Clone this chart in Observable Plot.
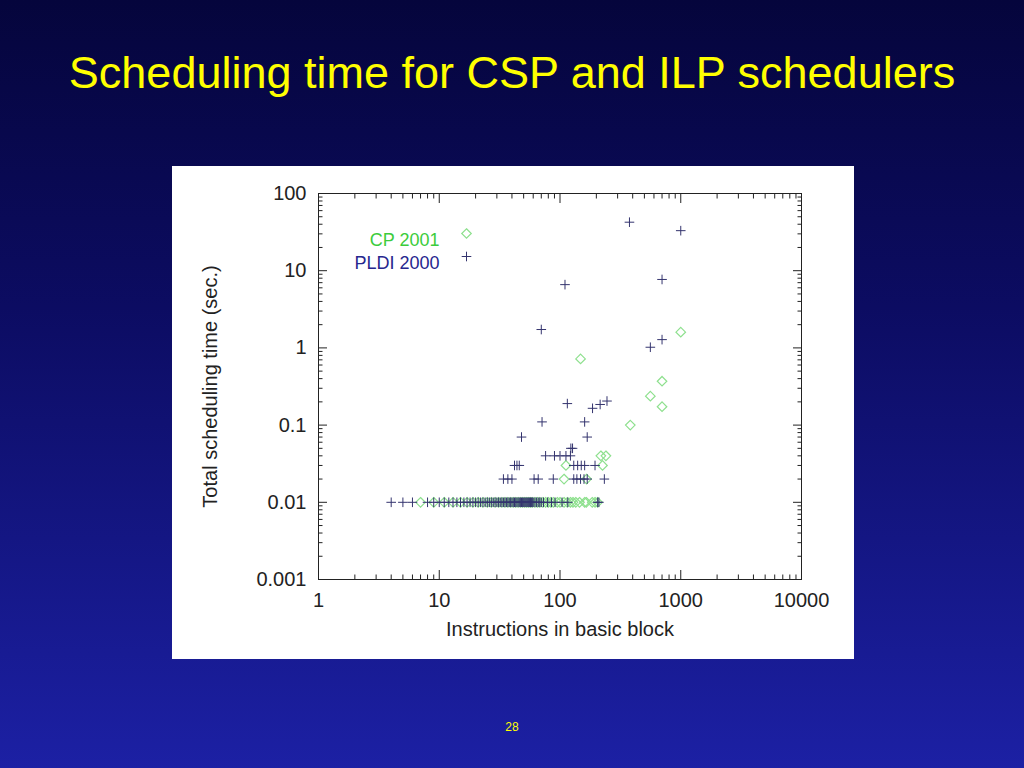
<!DOCTYPE html>
<html><head><meta charset="utf-8">
<script src="https://cdn.jsdelivr.net/npm/d3@7"></script>
<script src="https://cdn.jsdelivr.net/npm/@observablehq/plot@0.6"></script>
<style>
html,body{margin:0;padding:0;}
body{width:1024px;height:768px;overflow:hidden;position:relative;background:linear-gradient(to bottom,#05053c 0%,#0c0c62 40%,#1c20a4 100%);font-family:"Liberation Sans",Arial,sans-serif;}
#title{position:absolute;left:0;width:1024px;top:45px;text-align:center;color:#ffff00;font-size:45px;line-height:56px;}
#chart{position:absolute;left:172px;top:166px;width:682px;height:493px;background:#fff;}
#page{position:absolute;left:0;width:1024px;top:720px;text-align:center;color:#ffff00;font-size:12px;}
</style></head><body>
<div id="title">Scheduling time for CSP and ILP schedulers</div>
<div id="chart"></div>
<div id="page">28</div>
<script>
// ---- Data ----
// CP 2001 (green diamonds)
const cpX = [148, 1000, 700, 560, 700, 382, 218, 240, 112, 225, 108, 166,
  7, 9, 11, 13, 15, 17, 19, 21, 23, 25, 27, 29, 31, 33, 35, 37, 39, 41, 43, 45, 47, 49,
  51, 53, 55, 57, 59, 62, 65, 68, 72, 76, 80, 84, 88, 95, 100, 108, 115, 122, 128, 135,
  145, 160, 165, 185, 195, 205];
const cpY = [0.72, 1.6, 0.37, 0.237, 0.173, 0.1, 0.04, 0.04, 0.03, 0.03, 0.02, 0.02,
  0.01, 0.01, 0.01, 0.01, 0.01, 0.01, 0.01, 0.01, 0.01, 0.01, 0.01, 0.01, 0.01, 0.01, 0.01, 0.01, 0.01, 0.01, 0.01, 0.01, 0.01, 0.01,
  0.01, 0.01, 0.01, 0.01, 0.01, 0.01, 0.01, 0.01, 0.01, 0.01, 0.01, 0.01, 0.01, 0.01, 0.01, 0.01, 0.01, 0.01, 0.01, 0.01,
  0.01, 0.01, 0.01, 0.01, 0.01, 0.01];

// PLDI 2000 (dark blue pluses)
const pldiX = [376, 1000, 110, 700, 70, 560, 700,
  115, 186, 215, 245, 71, 160, 48, 168, 123, 127,
  76, 90, 100, 112, 122,
  42, 44, 46, 130, 140, 150, 160, 195,
  34, 37, 40, 61, 66, 88, 130, 138, 148, 158, 168, 233,
  4, 5, 6, 8, 9, 10, 11, 12, 13, 14, 15, 16, 17, 18, 19, 20, 21, 22, 23, 24, 25, 26, 27, 28, 29, 30,
  31, 32, 33, 34, 35, 36, 37, 38, 39, 40, 41, 42, 43, 44, 45, 46, 47, 48, 49, 50, 51, 52, 53, 54, 55,
  56, 57, 58, 59, 60, 62, 64, 66, 68, 70, 73, 79, 85, 91, 104, 116, 205, 210];
const pldiY = [42.5, 33, 6.6, 7.7, 1.73, 1.02, 1.28,
  0.19, 0.165, 0.185, 0.205, 0.11, 0.11, 0.07, 0.07, 0.05, 0.05,
  0.04, 0.04, 0.04, 0.04, 0.04,
  0.03, 0.03, 0.03, 0.03, 0.03, 0.03, 0.03, 0.03,
  0.02, 0.02, 0.02, 0.02, 0.02, 0.02, 0.02, 0.02, 0.02, 0.02, 0.02, 0.02,
  0.01, 0.01, 0.01, 0.01, 0.01, 0.01, 0.01, 0.01, 0.01, 0.01, 0.01, 0.01, 0.01, 0.01, 0.01, 0.01, 0.01, 0.01, 0.01, 0.01, 0.01, 0.01, 0.01, 0.01, 0.01, 0.01,
  0.01, 0.01, 0.01, 0.01, 0.01, 0.01, 0.01, 0.01, 0.01, 0.01, 0.01, 0.01, 0.01, 0.01, 0.01, 0.01, 0.01, 0.01, 0.01, 0.01, 0.01, 0.01, 0.01, 0.01, 0.01,
  0.01, 0.01, 0.01, 0.01, 0.01, 0.01, 0.01, 0.01, 0.01, 0.01, 0.01, 0.01, 0.01, 0.01, 0.01, 0.01, 0.01, 0.01];

// Tick labels
const xTicks = [1, 10, 100, 1000, 10000];
const yTicks = [0.001, 0.01, 0.1, 1, 10, 100];
const minorSteps = [2, 3, 4, 5, 6, 7, 8, 9];
const seriesNames = ["CP 2001", "PLDI 2000"];

const xMinor = xTicks.slice(0, -1).flatMap(d => minorSteps.map(k => d * k));
const yMinor = yTicks.slice(0, -1).flatMap(d => minorSteps.map(k => d * k));

const cp = cpX.map((x, i) => ({x, y: cpY[i]}));
const pldi = pldiX.map((x, i) => ({x, y: pldiY[i]}));

const green = "#8ee08e";
const navy = "#34346e";
const fmt = d => String(d);
const blank = () => "";

const tickAxes = [];
for (const anchor of ["bottom", "top"]) {
  tickAxes.push(Plot.axisX(xTicks, {anchor, tickSize: -9, tickFormat: blank, label: null, stroke: "#222"}));
  tickAxes.push(Plot.axisX(xMinor, {anchor, tickSize: -4.5, tickFormat: blank, label: null, stroke: "#222"}));
}
for (const anchor of ["left", "right"]) {
  tickAxes.push(Plot.axisY(yTicks, {anchor, tickSize: -9, tickFormat: blank, label: null, stroke: "#222"}));
  tickAxes.push(Plot.axisY(yMinor, {anchor, tickSize: -4.5, tickFormat: blank, label: null, stroke: "#222"}));
}

const chart = Plot.plot({
  width: 682,
  height: 493,
  marginLeft: 146,
  marginRight: 53,
  marginTop: 27,
  marginBottom: 80,
  style: {background: "#fff", color: "#222", fontFamily: "'Liberation Sans', Arial, sans-serif", fontSize: "20px"},
  x: {type: "log", domain: [1, 10000]},
  y: {type: "log", domain: [0.001, 100]},
  marks: [
    Plot.axisX(xTicks, {anchor: "bottom", tickSize: 0, tickPadding: 13, tickFormat: fmt, fontSize: 20,
      label: "Instructions in basic block", labelAnchor: "center", labelArrow: "none", labelOffset: 56}),
    Plot.axisY(yTicks, {anchor: "left", tickSize: 0, tickPadding: 12, tickFormat: fmt, fontSize: 20,
      label: "Total scheduling time (sec.)", labelAnchor: "center", labelArrow: "none", labelOffset: 116}),
    ...tickAxes,
    Plot.frame({stroke: "#222", strokeWidth: 1}),
    Plot.dot(cp, {x: "x", y: "y", symbol: "diamond2", r: 4.3, stroke: green, strokeWidth: 1.2}),
    Plot.dot(pldi, {x: "x", y: "y", symbol: "plus", r: 3.2, stroke: navy, strokeWidth: 1}),
    // legend
    Plot.text([seriesNames[0]], {text: d => d, frameAnchor: "top-left", dx: 121, dy: 40, textAnchor: "end", fill: "#3ccc3c", fontSize: 18}),
    Plot.text([seriesNames[1]], {text: d => d, frameAnchor: "top-left", dx: 121, dy: 63, textAnchor: "end", fill: "#26268e", fontSize: 18}),
    Plot.dot([seriesNames[0]], {frameAnchor: "top-left", dx: 148, dy: 40, symbol: "diamond2", r: 4.3, stroke: green, strokeWidth: 1.2}),
    Plot.dot([seriesNames[1]], {frameAnchor: "top-left", dx: 148, dy: 63, symbol: "plus", r: 3.2, stroke: navy, strokeWidth: 1})
  ]
});
document.getElementById("chart").appendChild(chart);
</script>
</body></html>
